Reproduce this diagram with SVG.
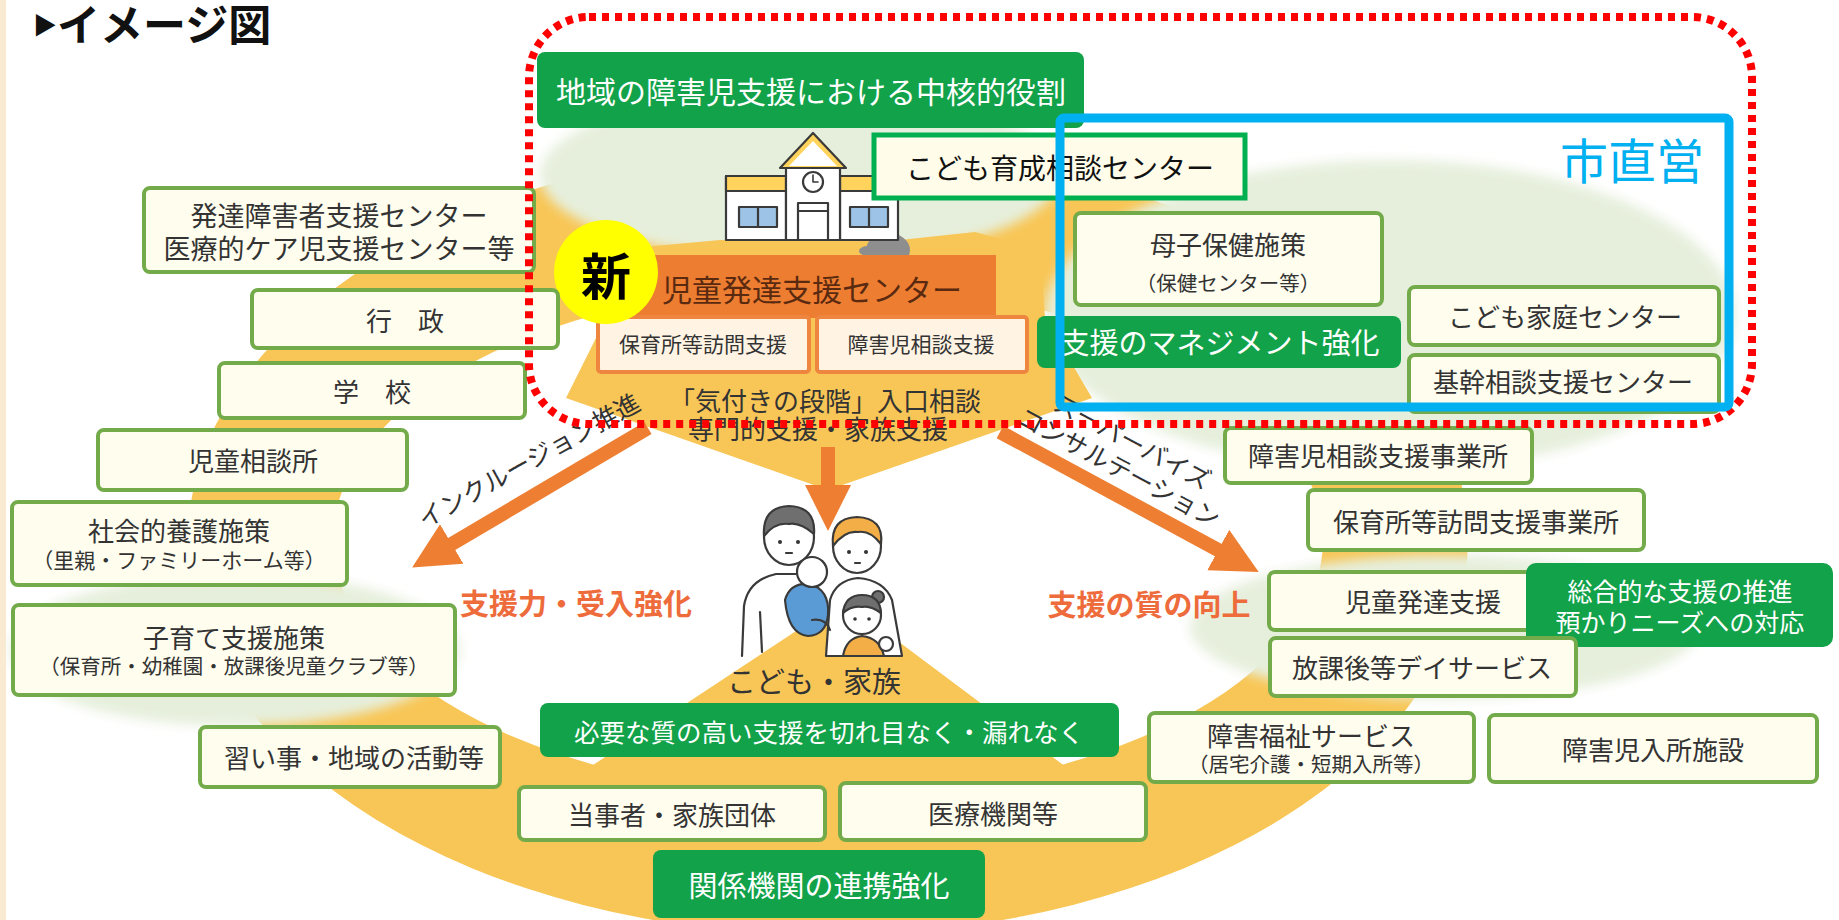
<svg xmlns="http://www.w3.org/2000/svg" width="1839" height="920" viewBox="0 0 1839 920">
<defs>
<style>
svg{font-size:26px}
.t{font-family:"Noto Sans CJK JP","Noto Sans CJK SC",sans-serif;fill:#333;text-anchor:middle;dominant-baseline:central}
.w{fill:#fff}
.b{fill:#FEFDEE;stroke:#74AB4A;stroke-width:4}
.g{fill:#12A24A}
.ob{fill:#FFF4E4;stroke:#EE8640;stroke-width:4}
.y{fill:#F8C656}
.pale{fill:#E6EFDC;filter:url(#soft)}
.arr{stroke:#EE7E32;stroke-width:14;fill:none}
.ln{stroke:#3a3a3a;stroke-width:2.2;stroke-linejoin:round;stroke-linecap:round}
.red{fill:#EE6B3B;font-weight:700}
</style>
<filter id="soft" x="-20%" y="-30%" width="140%" height="160%"><feGaussianBlur stdDeviation="6"/></filter>
<marker id="head" markerUnits="userSpaceOnUse" markerWidth="52" markerHeight="52" refX="2" refY="23" orient="auto"><path d="M0,0 L46,23 L0,46 Z" fill="#EE7E32"/></marker>
</defs>

<!-- page -->
<rect width="1839" height="920" fill="#fff"/>
<rect width="6" height="920" fill="#FBEAD2"/>

<!-- background: yellow ring, pale green zones, inner yellow areas -->
<g id="backdrop">
  <path class="y" fill-rule="evenodd" d="M188 540A640 395 0 1 0 1468 540A640 395 0 1 0 188 540Z M333 540A495 255 0 1 0 1323 540A495 255 0 1 0 333 540Z"/>
  <ellipse class="pale" cx="800" cy="175" rx="260" ry="85"/>
  <ellipse class="pale" cx="1390" cy="315" rx="345" ry="155"/>
  <ellipse class="pale" cx="235" cy="650" rx="225" ry="76"/>
  <ellipse class="pale" cx="1445" cy="627" rx="255" ry="72"/>
  <path class="y" d="M566 398L828 490L1092 398L1045 318L1040 250L975 232L900 240L720 240L610 250L600 330Z"/>
  <path class="y" d="M843 600L1110 800L540 800Z"/>
</g>

<!-- title -->
<text x="33" y="41" font-family="'Noto Sans CJK JP',sans-serif" font-size="43" font-weight="700" fill="#111"><tspan font-size="24" dy="-7">▶</tspan><tspan dy="7">イメージ図</tspan></text>

<!-- connectors -->
<g id="connectors">
  <line class="arr" x1="648" y1="428" x2="450" y2="545" marker-end="url(#head)"/>
  <line class="arr" x1="1000" y1="432" x2="1220" y2="551" marker-end="url(#head)"/>
  <line class="arr" x1="828" y1="447" x2="828" y2="487" marker-end="url(#head)"/>
  <text class="t" font-size="25" transform="translate(528 459) rotate(-29)">インクルージョン推進</text>
  <text class="t" font-size="25" transform="translate(1133 440) rotate(28)">スーパーバイズ</text>
  <text class="t" font-size="25" transform="translate(1120 466) rotate(28)">コンサルテーション</text>
</g>

<!-- building -->
<g id="building" class="ln">
  <ellipse cx="888" cy="250" rx="22" ry="17" fill="#8E8E8E" stroke="none"/>
  <ellipse cx="868" cy="251" rx="9" ry="5" fill="#8E8E8E" stroke="none"/>
  <rect x="726" y="176" width="60" height="64" fill="#fff"/>
  <rect x="726" y="176" width="60" height="15" fill="#FFD35C"/>
  <rect x="840" y="176" width="58" height="64" fill="#fff"/>
  <rect x="840" y="176" width="58" height="15" fill="#FFD35C"/>
  <rect x="786" y="164" width="54" height="76" fill="#fff"/>
  <path d="M780 168L813 133L846 168Z" fill="#FFD35C"/>
  <path d="M789 166L813 141L837 166Z" fill="#fff" stroke="none"/>
  <circle cx="813" cy="182" r="10" fill="#fff"/>
  <path d="M813 175V182H818" fill="none" stroke-width="1.6"/>
  <rect x="798" y="203" width="30" height="37" fill="#fff"/>
  <line x1="798" y1="211" x2="828" y2="211"/>
  <rect x="739" y="207" width="38" height="20" fill="#9DC3E6"/>
  <line x1="758" y1="207" x2="758" y2="227"/>
  <rect x="850" y="207" width="38" height="20" fill="#9DC3E6"/>
  <line x1="869" y1="207" x2="869" y2="227"/>
</g>

<!-- family -->
<g id="family" class="ln">
  <path d="M742 656L744 606Q748 580 776 574L806 574" fill="#fff"/>
  <path d="M826 656L830 600Q836 580 858 578Q884 580 892 600L902 656Z" fill="#fff"/>
  <line x1="760" y1="612" x2="762" y2="652"/>
  <ellipse cx="789" cy="537" rx="25" ry="28" fill="#fff"/>
  <path d="M764 536Q762 507 789 506Q816 507 814 534Q800 522 789 524Q775 522 764 536Z" fill="#6F6F6F"/>
  <circle cx="780" cy="542" r="2" fill="#333" stroke="none"/>
  <circle cx="798" cy="542" r="2" fill="#333" stroke="none"/>
  <line x1="786" y1="553" x2="792" y2="553"/>
  <ellipse cx="857" cy="546" rx="24" ry="27" fill="#fff"/>
  <path d="M833 546Q830 518 857 517Q884 518 881 544Q870 530 858 532Q845 530 833 546Z" fill="#F4AE47"/>
  <circle cx="849" cy="552" r="2" fill="#333" stroke="none"/>
  <circle cx="866" cy="552" r="2" fill="#333" stroke="none"/>
  <line x1="855" y1="563" x2="860" y2="563"/>
  <path d="M843 656Q846 638 862 636Q880 638 884 656Z" fill="#F4AE47"/>
  <circle cx="862" cy="615" r="19" fill="#fff"/>
  <circle cx="878" cy="597" r="6" fill="#6F6F6F"/>
  <path d="M843 613Q845 595 862 595Q880 595 881 613Q870 605 862 607Q852 605 843 613Z" fill="#6F6F6F"/>
  <circle cx="855" cy="619" r="1.8" fill="#333" stroke="none"/>
  <circle cx="869" cy="619" r="1.8" fill="#333" stroke="none"/>
  <circle cx="886" cy="644" r="7" fill="#fff"/>
  <path d="M785 600Q790 582 810 584Q830 590 828 615Q826 635 808 636Q788 634 785 600Z" fill="#5B9BD5"/>
  <circle cx="812" cy="572" r="15" fill="#fff"/>
  <path d="M812 620Q826 618 830 630" fill="none"/>
</g>

<!-- nodes -->
<g id="n-core-role"><rect class="g" x="537" y="52" width="547" height="76" rx="8"/><text class="t w" x="811" y="90" font-size="30">地域の障害児支援における中核的役割</text></g>
<g id="n-ikusei"><rect x="874" y="135" width="371" height="63" fill="#FFFDE9" stroke="#00B050" stroke-width="5"/><text class="t" x="1060" y="167" font-size="28" style="fill:#111">こども育成相談センター</text></g>
<g id="n-center-head"><rect x="598" y="255" width="398" height="63" fill="#ED7D31"/><text class="t" x="812" y="288" font-size="30" style="fill:#5A2A10">児童発達支援センター</text></g>
<g id="n-visit"><rect class="ob" x="598" y="317" width="211" height="55" rx="3"/><text class="t" x="703" y="343" font-size="21">保育所等訪問支援</text></g>
<g id="n-consult"><rect class="ob" x="817" y="317" width="210" height="55" rx="3"/><text class="t" x="921" y="343" font-size="21">障害児相談支援</text></g>
<g id="n-intake"><text class="t" x="825" y="399" font-size="26">「気付きの段階」入口相談</text><text class="t" x="818" y="427" font-size="26">専門的支援・家族支援</text></g>
<g id="n-new"><circle cx="606" cy="272" r="52" fill="#FFFF00"/><text class="t" x="606" y="273" font-size="50" font-weight="700" style="fill:#000">新</text></g>

<g id="n-hattatsu"><rect class="b" x="144" y="188" width="390" height="84" rx="6"/><text class="t" x="339" y="214" font-size="27">発達障害者支援センター</text><text class="t" x="339" y="247" font-size="27">医療的ケア児支援センター等</text></g>
<g id="n-gyosei"><rect class="b" x="252" y="290" width="306" height="58" rx="6"/><text class="t" x="405" y="319">行　政</text></g>
<g id="n-gakko"><rect class="b" x="219" y="363" width="306" height="55" rx="6"/><text class="t" x="372" y="390">学　校</text></g>
<g id="n-jiso"><rect class="b" x="98" y="430" width="309" height="60" rx="6"/><text class="t" x="253" y="459">児童相談所</text></g>
<g id="n-shakai"><rect class="b" x="12" y="502" width="335" height="83" rx="6"/><text class="t" x="179" y="529">社会的養護施策</text><text class="t" x="179" y="559" font-size="21">（里親・ファミリーホーム等）</text></g>
<g id="n-kosodate"><rect class="b" x="13" y="605" width="442" height="90" rx="6"/><text class="t" x="234" y="636">子育て支援施策</text><text class="t" x="234" y="665" font-size="20.5">（保育所・幼稚園・放課後児童クラブ等）</text></g>
<g id="n-naraigoto"><rect class="b" x="200" y="727" width="300" height="60" rx="6"/><text class="t" x="354" y="756">習い事・地域の活動等</text></g>
<g id="n-tojisha"><rect class="b" x="519" y="787" width="306" height="53" rx="6"/><text class="t" x="672" y="813">当事者・家族団体</text></g>
<g id="n-iryo"><rect class="b" x="840" y="783" width="306" height="57" rx="6"/><text class="t" x="993" y="812">医療機関等</text></g>
<g id="n-renkei"><rect class="g" x="653" y="850" width="332" height="68" rx="8"/><text class="t w" x="819" y="884" font-size="29">関係機関の連携強化</text></g>
<g id="n-kireme"><rect class="g" x="540" y="703" width="579" height="54" rx="8"/><text class="t w" x="829" y="730" font-size="25.5">必要な質の高い支援を切れ目なく・漏れなく</text></g>
<g id="n-family-label"><text class="t" x="814" y="680" font-size="29">こども・家族</text></g>
<g id="n-ukeire"><text class="t red" x="576" y="602" font-size="29">支援力・受入強化</text></g>
<g id="n-shitsu"><text class="t red" x="1149" y="603" font-size="29">支援の質の向上</text></g>

<g id="n-boshi"><rect class="b" x="1075" y="213" width="307" height="92" rx="6"/><text class="t" x="1228" y="243">母子保健施策</text><text class="t" x="1228" y="282" font-size="20.5">（保健センター等）</text></g>
<g id="n-management"><rect class="g" x="1037" y="316" width="364" height="52" rx="8"/><text class="t w" x="1220" y="341" font-size="29">支援のマネジメント強化</text></g>
<g id="n-katei"><rect class="b" x="1409" y="287" width="310" height="58" rx="6"/><text class="t" x="1565" y="315">こども家庭センター</text></g>
<g id="n-kikan"><rect class="b" x="1409" y="355" width="310" height="57" rx="6"/><text class="t" x="1563" y="380">基幹相談支援センター</text></g>
<g id="n-soudan-jigyo"><rect class="b" x="1225" y="428" width="307" height="55" rx="6"/><text class="t" x="1378" y="454">障害児相談支援事業所</text></g>
<g id="n-houmon-jigyo"><rect class="b" x="1308" y="490" width="336" height="60" rx="6"/><text class="t" x="1476" y="520">保育所等訪問支援事業所</text></g>
<g id="n-jihatsu"><rect class="b" x="1269" y="572" width="290" height="58" rx="6"/><text class="t" x="1423" y="600">児童発達支援</text></g>
<g id="n-sogo"><rect class="g" x="1526" y="563" width="307" height="84" rx="10"/><text class="t w" x="1680" y="590" font-size="25">総合的な支援の推進</text><text class="t w" x="1680" y="621" font-size="25">預かりニーズへの対応</text></g>
<g id="n-houkago"><rect class="b" x="1270" y="638" width="306" height="58" rx="6"/><text class="t" x="1422" y="666">放課後等デイサービス</text></g>
<g id="n-fukushi"><rect class="b" x="1149" y="713" width="325" height="69" rx="6"/><text class="t" x="1311" y="734">障害福祉サービス</text><text class="t" x="1311" y="763" font-size="20.5">（居宅介護・短期入所等）</text></g>
<g id="n-nyusho"><rect class="b" x="1489" y="715" width="328" height="67" rx="6"/><text class="t" x="1653" y="748">障害児入所施設</text></g>

<!-- scope frames -->
<g id="frames" fill="none">
  <rect x="529" y="17" width="1223" height="407" rx="60" stroke="#FF0000" stroke-width="8" stroke-dasharray="7 6"/>
  <rect x="1060" y="118" width="669" height="289" rx="4" stroke="#00B0F0" stroke-width="9"/>
  <text class="t" x="1632" y="158" font-size="48" style="fill:#00B0F0">市直営</text>
</g>
</svg>
